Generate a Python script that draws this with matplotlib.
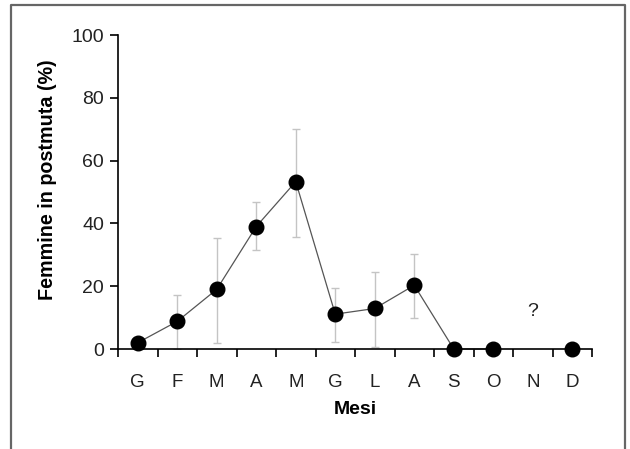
import numpy as np
import matplotlib
matplotlib.use('Agg')
import matplotlib.pyplot as plt

months = ['G', 'F', 'M', 'A', 'M', 'G', 'L', 'A', 'S', 'O', 'N', 'D']
female_pct = [2.0, 8.8, 19.0, 39.0, 53.3, 11.1, 12.9, 20.3, 0.0, 0.0, np.nan, 0.0]
err_top = [np.nan, 17.3, 35.4, 46.9, 70.1, 19.3, 24.6, 30.3, np.nan, np.nan, np.nan, np.nan]
err_bottom = [np.nan, 0.0, 1.9, 31.4, 35.8, 2.3, 0.7, 9.8, np.nan, np.nan, np.nan, np.nan]
unknown_idx = 10   # November: no data
unknown_y = 12

plt.rcParams['font.family'] = ['Liberation Sans', 'DejaVu Sans']

fig = plt.figure(figsize=(6.30, 4.49), dpi=100)
ax = fig.add_axes([118 / 630, 1 - 349 / 449, (592 - 118) / 630, (349 - 35) / 449])

x = np.arange(len(months)) + 0.5
y = np.array(female_pct)
top = np.array(err_top)
bot = np.array(err_bottom)

# error bars (light grey), only where defined
has_err = ~np.isnan(top)
ax.errorbar(x[has_err], y[has_err], yerr=[y[has_err] - bot[has_err], top[has_err] - y[has_err]],
            fmt='none', ecolor='#c4c4c4', elinewidth=1.0, capsize=3.2, capthick=1.0, zorder=1)

ax.plot(x, y, color='#555555', lw=0.9, zorder=2, clip_on=False)
ax.plot(x, y, 'o', color='black', markersize=10.5, zorder=3, clip_on=False)

ax.text(x[unknown_idx], unknown_y, '?', ha='center', va='center',
        fontsize=14, color='#222222')

ax.set_xlim(0, 12)
ax.set_ylim(0, 100)
ax.set_yticks([0, 20, 40, 60, 80, 100])
ax.set_xticks(np.arange(13))
ax.set_xticklabels([])
ax.set_xticks(x, minor=True)
ax.set_xticklabels(months, minor=True)
ax.tick_params(axis='x', which='minor', length=0, pad=18, labelsize=13.5, labelcolor='#222222')
ax.tick_params(axis='x', which='major', length=6, width=1.2, direction='out')
ax.tick_params(axis='y', length=6, width=1.2, direction='out', labelsize=14, pad=4, labelcolor='#222222')

for s in ['top', 'right']:
    ax.spines[s].set_visible(False)
for s in ['left', 'bottom']:
    ax.spines[s].set_linewidth(1.2)

ax.set_ylabel('Femmine in postmuta (%)', fontsize=14.2, fontweight='bold')
ax.yaxis.set_label_coords(-0.128, 0.538)
ax.set_xlabel('Mesi', fontsize=14, fontweight='bold', labelpad=7)

# figure frame (open at the bottom)
fig.add_artist(plt.Line2D([11 / 630, 11 / 630, 625 / 630, 625 / 630],
                          [0, 1 - 5 / 449, 1 - 5 / 449, 0],
                          transform=fig.transFigure, color='#666666', lw=1.6))

fig.savefig('out.png', dpi=100)
